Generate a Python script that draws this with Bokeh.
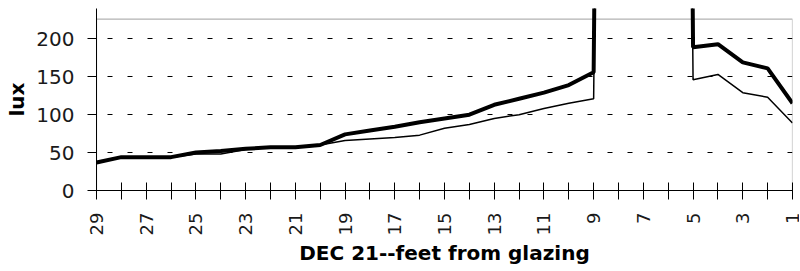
import math
from bokeh.plotting import figure
from bokeh.models import Range1d, FixedTicker, BoxAnnotation
from bokeh.embed import file_html
from bokeh.resources import INLINE

feet = list(range(29, 0, -1))
# thick series (upper)
lux_thick = [37, 44, 44, 44, 50, 52, 55, 57, 57, 60, 74, 79, 84, 90, 95, 100,
             113, 121, 129, 139, 156, 3600, 4200, 3800, 189, 193, 169, 161, 115]
# thin series (lower)
lux_thin = [36, 44, 44, 44, 48, 48, 54, 57, 57, 60, 66, 68, 70, 73, 82, 87,
            95, 100, 108, 115, 121, 3400, 4000, 3600, 146, 153, 129, 123, 89]

y_ticks = [0, 50, 100, 150, 200]
x_label_feet = list(range(29, 0, -2))
y_axis_max = 226
y_view_max = 240

FONT = "DejaVu Sans"

p = figure(width=799, height=270, output_backend="svg", toolbar_location=None,
           x_range=Range1d(29, 1), y_range=Range1d(0, y_view_max),
           min_border_left=96, min_border_right=7, min_border_top=8,
           min_border_bottom=80)
p.outline_line_color = None
p.background_fill_color = "white"
p.border_fill_color = "white"

p.line(feet, lux_thin, line_color="black", line_width=1.5)
p.line(feet, lux_thick, line_color="black", line_width=4)

p.add_layout(BoxAnnotation(left=1, right=29, bottom=0, top=y_axis_max,
                           fill_alpha=0, line_color="black", line_width=1.2))

# axes
xa = p.xaxis[0]
xa.ticker = FixedTicker(ticks=feet)
xa.major_label_overrides = {f: (str(f) if f in x_label_feet else "") for f in feet}
xa.major_label_orientation = math.pi / 2
xa.major_tick_in = 8
xa.major_tick_out = 9
xa.minor_tick_line_color = None
xa.major_label_text_font = FONT
xa.major_label_text_font_size = "18px"
xa.major_label_text_color = "#1a1a1a"
xa.major_label_standoff = 13
xa.axis_label = "DEC 21--feet from glazing"
xa.axis_label_text_font = FONT
xa.axis_label_text_font_style = "bold"
xa.axis_label_text_font_size = "20px"
xa.axis_label_text_color = "black"
xa.axis_label_standoff = 3
xa.axis_line_color = "black"
xa.major_tick_line_color = "black"

ya = p.yaxis[0]
ya.ticker = FixedTicker(ticks=y_ticks)
ya.major_tick_in = 0
ya.major_tick_out = 9
ya.minor_tick_line_color = None
ya.major_label_text_font = FONT
ya.major_label_text_font_size = "20px"
ya.major_label_text_color = "#1a1a1a"
ya.major_label_standoff = 13
ya.axis_label = "lux"
ya.axis_label_text_font = FONT
ya.axis_label_text_font_style = "bold"
ya.axis_label_text_font_size = "20px"
ya.axis_label_text_color = "black"
ya.axis_label_standoff = 4
ya.axis_line_color = "black"
ya.major_tick_line_color = "black"

p.xgrid.grid_line_color = None
p.ygrid.ticker = FixedTicker(ticks=y_ticks[1:])
p.ygrid.grid_line_color = "black"
p.ygrid.grid_line_width = 1
p.ygrid.grid_line_dash = "5 15"

open("out.html", "w").write(file_html(p, INLINE))
